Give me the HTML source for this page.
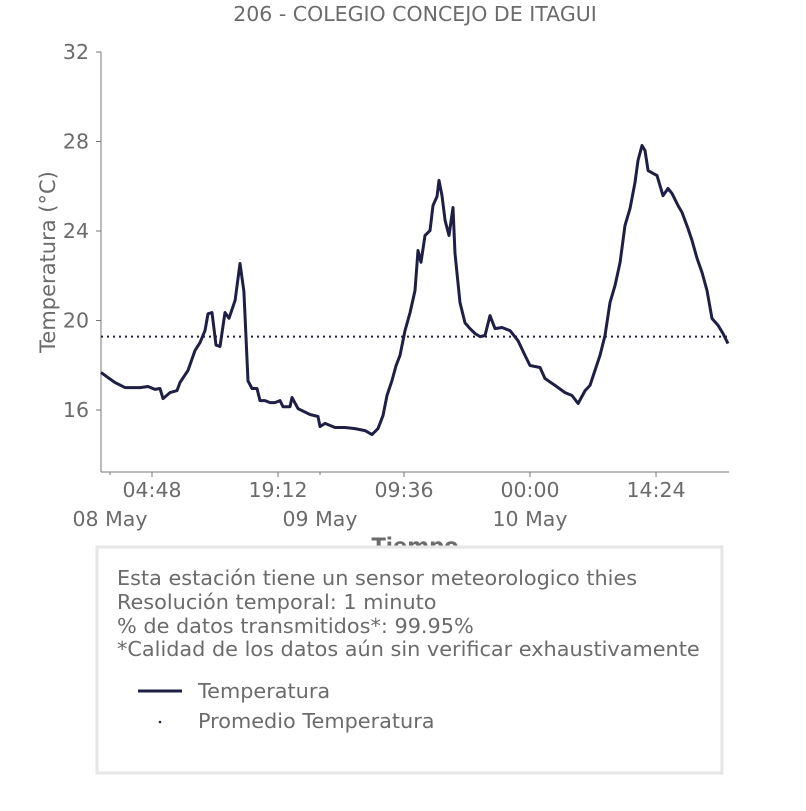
<!DOCTYPE html>
<html><head><meta charset="utf-8"><style>
body{margin:0;background:#fff;font-family:"Liberation Sans","DejaVu Sans",sans-serif;}
svg text{font-family:"DejaVu Sans","Liberation Sans",sans-serif;fill:#6b6b6b;}
</style></head><body>
<svg id="chart" width="806" height="806" viewBox="0 0 806 806">
<text x="415" y="21" font-size="20.5" text-anchor="middle">206 - COLEGIO CONCEJO DE ITAGUI</text>
<g id="axes"></g>
<g id="series"></g>
<text x="415" y="553" font-size="21" font-weight="bold" text-anchor="middle">Tiempo</text>
<text transform="translate(55,262) rotate(-90)" font-size="21" text-anchor="middle">Temperatura (°C)</text>
<rect x="97" y="547" width="625" height="226" fill="#fff" stroke="#e6e6e6" stroke-width="3"/>
<text font-size="20.8">
<tspan x="117" y="585">Esta estación tiene un sensor meteorologico thies</tspan>
<tspan x="117" y="609">Resolución temporal: 1 minuto</tspan>
<tspan x="117" y="633">% de datos transmitidos*: 99.95%</tspan>
<tspan x="117" y="656">*Calidad de los datos aún sin verificar exhaustivamente</tspan>
</text>
<line x1="138" y1="691" x2="182" y2="691" stroke="#1f1f45" stroke-width="3"/>
<text x="198" y="698" font-size="20.8">Temperatura</text>
<circle cx="160" cy="722" r="1.3" fill="#1f1f45"/>
<text x="198" y="728" font-size="20.8">Promedio Temperatura</text>
</svg>
<script>
const hours=[-1.03,-0.23,0.57,1.71,3.43,4.34,5.14,5.71,6.06,6.86,7.66,8.0,8.91,9.71,10.29,10.86,11.2,11.66,12.11,12.57,13.14,13.6,14.3,14.86,15.3,15.77,16.23,16.8,17.14,17.71,18.29,18.86,19.43,19.77,20.57,20.8,21.49,22.86,23.77,24.0,24.57,25.71,26.86,28.0,29.14,29.94,30.63,31.2,31.66,32.23,32.69,33.14,33.71,34.29,34.86,35.2,35.54,36.0,36.57,36.91,37.37,37.6,37.94,38.29,38.74,39.2,39.43,40.0,40.57,41.14,41.71,42.29,42.86,43.43,44.0,44.8,45.71,46.63,47.43,48.0,49.14,49.71,50.86,52.0,52.8,53.49,54.29,54.86,55.43,56.0,56.57,57.14,57.71,58.29,58.86,59.43,60.0,60.34,60.8,61.14,61.49,61.94,62.51,63.2,63.77,64.23,64.91,65.37,66.06,66.51,67.09,67.66,68.23,68.8,69.49,70.06,70.63];
const temps=[17.68,17.45,17.23,17.0,17.0,17.05,16.92,16.96,16.51,16.78,16.87,17.23,17.77,18.66,19.02,19.55,20.3,20.36,18.9,18.84,20.36,20.1,20.9,22.55,21.3,17.3,16.96,16.96,16.42,16.42,16.33,16.33,16.42,16.15,16.15,16.56,16.06,15.8,15.71,15.26,15.4,15.22,15.22,15.17,15.08,14.9,15.17,15.75,16.65,17.32,17.99,18.44,19.55,20.36,21.34,23.13,22.6,23.8,24.02,25.14,25.54,26.26,25.58,24.47,23.8,25.05,23.0,20.8,19.9,19.64,19.42,19.28,19.33,20.22,19.64,19.69,19.55,19.1,18.44,17.99,17.9,17.41,17.1,16.78,16.65,16.29,16.87,17.1,17.77,18.44,19.33,20.8,21.56,22.6,24.25,25.0,26.17,27.15,27.82,27.6,26.7,26.6,26.48,25.58,25.9,25.68,25.14,24.83,24.11,23.58,22.77,22.15,21.34,20.09,19.78,19.42,18.97];
const meanTemp=19.28;
const yTicks=[16,20,24,28,32];
const xTickHours=[4.8,19.2,33.6,48,62.4];
const xTickLabels=["04:48","19:12","09:36","00:00","14:24"];
const dateHours=[0,24,48];
const dateLabels=["08 May","09 May","10 May"];
const ns="http://www.w3.org/2000/svg";
const X0=101,X1=729,Y0=52,Y1=472,HMIN=-1.03,HMAX=70.74,TMIN=13.23,TMAX=32;
function xs(h){return X0+(h-HMIN)/(HMAX-HMIN)*(X1-X0);}
function ys(t){return Y1-(t-TMIN)/(TMAX-TMIN)*(Y1-Y0);}
function mk(tag,attrs,parent){const e=document.createElementNS(ns,tag);for(const k in attrs)e.setAttribute(k,attrs[k]);parent.appendChild(e);return e;}
const ax=document.getElementById('axes'),se=document.getElementById('series');
let l=mk('line',{x1:X0,y1:Y0,x2:X0,y2:Y1,stroke:'#777','stroke-width':1},ax);


l=mk('line',{x1:X0,y1:Y1,x2:X1,y2:Y1,stroke:'#777','stroke-width':1},ax);


yTicks.forEach(t=>{const y=ys(t);
 mk('line',{x1:X0-5,y1:y,x2:X0,y2:y,stroke:'#777'},ax);
 const tx=mk('text',{x:X0-12,y:y+7,'font-size':20.5,'text-anchor':'end'},ax);tx.textContent=t;
 
 
});
xTickHours.forEach((h,i)=>{const x=xs(h);
 mk('line',{x1:x,y1:Y1,x2:x,y2:Y1+5,stroke:'#777'},ax);
 const tx=mk('text',{x:x,y:Y1+25,'font-size':20.5,'text-anchor':'middle'},ax);tx.textContent=xTickLabels[i];
 
 
});
dateHours.forEach((h,i)=>{const x=xs(h);
 mk('line',{x1:x,y1:Y1,x2:x,y2:Y1+3,stroke:'#777'},ax);
 const tx=mk('text',{x:x,y:Y1+54,'font-size':20.5,'text-anchor':'middle'},ax);tx.textContent=dateLabels[i];
 
 
});
const ml=mk('line',{x1:X0,y1:ys(meanTemp),x2:X1,y2:ys(meanTemp),stroke:'#1f1f45','stroke-width':2,'stroke-dasharray':'2 4'},se);


const d=hours.map((h,i)=>(i?'L':'M')+xs(h).toFixed(1)+','+ys(temps[i]).toFixed(1)).join('');
const p=mk('path',{d:d,fill:'none',stroke:'#1f1f45','stroke-width':3,'stroke-linejoin':'round'},se);


</script>
</body></html>
